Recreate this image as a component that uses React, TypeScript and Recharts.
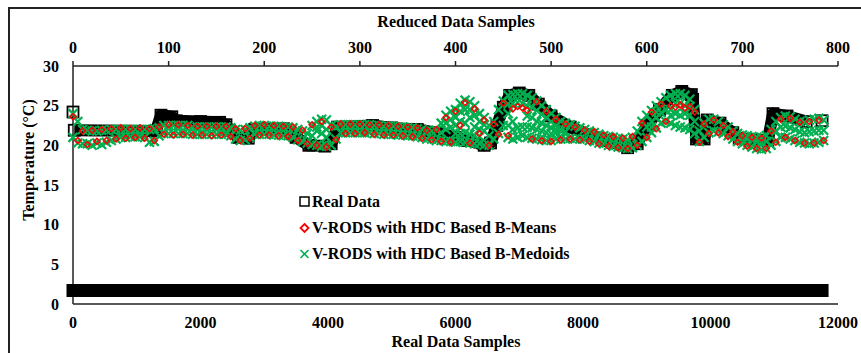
import { ScatterChart, Scatter, XAxis, YAxis } from "recharts";

const realTicks = [0, 2000, 4000, 6000, 8000, 10000, 12000];
const reducedTicks = [0, 100, 200, 300, 400, 500, 600, 700, 800];
const tempTicks = [0, 5, 10, 15, 20, 25, 30];

// Real data (bottom axis)
const realIdx = [0, 20, 1300, 1380, 1550, 1620, 2000, 2300, 2400, 2450, 2600, 2750, 2850, 3300, 3500, 3700, 3950, 4050, 4150, 4700, 5000, 5400, 5700, 6000, 6200, 6450, 6550, 6650, 6750, 6850, 7000, 7150, 7300, 7500, 7800, 8100, 8400, 8700, 8850, 9000, 9200, 9400, 9550, 9700, 9720, 9780, 9900, 9950, 10150, 10350, 10450, 10900, 10980, 11200, 11500, 11750];
const realTemp = [24.2, 21.9, 21.8, 23.8, 23.6, 23.1, 23.0, 22.9, 22.6, 21.9, 21.0, 20.9, 22.0, 22.1, 21.0, 20.0, 19.9, 20.2, 22.3, 22.5, 22.2, 22.0, 21.6, 21.0, 20.6, 20.0, 20.3, 22.5, 24.8, 26.3, 26.6, 26.3, 25.2, 23.7, 22.3, 21.3, 20.6, 19.7, 20.2, 22.5, 24.5, 26.3, 26.8, 26.4, 25.8, 20.8, 20.8, 23.2, 22.8, 21.6, 20.9, 20.6, 24.0, 23.7, 23.0, 23.1];

// flat black strip near the bottom
const bandIdx = [0, 11750];
const bandTemp = [1.7, 1.7];

// Reduced samples (top axis)
const reducedIdx = [0, 5, 10, 15, 20, 25, 30, 35, 40, 45, 50, 55, 60, 65, 70, 75, 80, 85, 90, 95, 100, 105, 110, 115, 120, 125, 130, 135, 140, 145, 150, 155, 160, 165, 170, 175, 180, 185, 190, 195, 200, 205, 210, 215, 220, 225, 230, 235, 240, 245, 250, 255, 260, 265, 270, 275, 280, 285, 290, 295, 300, 305, 310, 315, 320, 325, 330, 335, 340, 345, 350, 355, 360, 365, 370, 375, 380, 385, 390, 395, 400, 405, 410, 415, 420, 425, 430, 435, 440, 445, 450, 455, 460, 465, 470, 475, 480, 485, 490, 495, 500, 505, 510, 515, 520, 525, 530, 535, 540, 545, 550, 555, 560, 565, 570, 575, 580, 585, 590, 595, 600, 605, 610, 615, 620, 625, 630, 635, 640, 645, 650, 655, 660, 665, 670, 675, 680, 685, 690, 695, 700, 705, 710, 715, 720, 725, 730, 735, 740, 745, 750, 755, 760, 765, 770, 775, 780, 785];

const medoidHi = [
  24.0, 23.0, 22.0, 21.9, 21.8, 21.8, 21.9, 21.9, 22.0, 22.0,
  22.0, 22.0, 22.0, 22.0, 22.0, 22.0, 22.0, 22.1, 22.2, 22.5,
  22.5, 22.5, 22.5, 22.5, 22.5, 22.3, 22.3, 22.3, 22.3, 22.3,
  22.3, 22.3, 22.3, 22.2, 22.0, 21.9, 22.0, 22.2, 22.4, 22.5,
  22.5, 22.4, 22.4, 22.4, 22.3, 22.3, 22.2, 22.0, 21.8, 21.5,
  22.5, 23.0, 23.3, 23.2, 22.5, 22.4, 22.6, 22.6, 22.6, 22.6,
  22.6, 22.6, 22.6, 22.5, 22.5, 22.4, 22.4, 22.4, 22.3, 22.3,
  22.2, 22.2, 22.1, 22.0, 21.8, 21.8, 21.9, 22.8, 23.8, 24.3,
  24.5, 25.3, 25.7, 25.5, 25.0, 24.0, 23.5, 22.5, 23.0, 24.5,
  25.6, 26.3, 26.4, 26.5, 26.5, 26.3, 26.0, 25.6, 25.0, 24.5,
  24.0, 23.5, 23.0, 22.8, 22.6, 22.4, 22.2, 22.0, 21.8, 21.6,
  21.4, 21.2, 21.1, 21.0, 20.9, 20.8, 20.7, 21.0, 21.8, 23.0,
  23.8, 24.4, 25.0, 25.5, 26.0, 26.3, 26.5, 26.5, 26.3, 25.8,
  24.5, 21.8, 22.8, 23.3, 23.3, 23.0, 22.6, 22.3, 21.8, 21.5,
  21.3, 21.2, 21.1, 21.0, 21.0, 21.2, 22.0, 23.0, 23.5, 23.7,
  23.6, 23.3, 23.0, 22.9, 23.2, 23.3, 23.4, 23.2,
];
const medoidLo = [
  21.0, 20.3, 20.2, 20.2, 20.0, 20.3, 20.1, 20.4, 20.6, 20.8,
  21.0, 21.0, 21.1, 21.1, 21.1, 21.0, 20.4, 20.5, 21.2, 21.5,
  21.5, 21.5, 21.5, 21.5, 21.5, 21.4, 21.4, 21.4, 21.4, 21.4,
  21.4, 21.4, 21.4, 21.2, 20.8, 20.6, 20.7, 21.0, 21.4, 21.4,
  21.4, 21.4, 21.3, 21.3, 21.2, 21.2, 21.0, 20.7, 20.5, 20.3,
  20.1, 20.0, 19.9, 19.9, 20.0, 20.8, 21.6, 21.6, 21.6, 21.6,
  21.6, 21.6, 21.6, 21.5, 21.5, 21.4, 21.4, 21.4, 21.3, 21.3,
  21.2, 21.2, 21.1, 21.0, 20.8, 20.8, 20.6, 20.6, 20.5, 20.5,
  20.4, 20.5, 20.4, 20.3, 20.2, 20.2, 20.0, 20.0, 20.8, 21.5,
  22.5, 21.0, 20.8, 21.0, 21.2, 21.0, 20.9, 20.8, 20.7, 20.6,
  20.6, 20.8, 20.8, 20.8, 20.9, 20.8, 20.8, 20.8, 20.6, 20.5,
  20.3, 20.2, 20.0, 19.9, 19.8, 19.7, 19.6, 19.7, 20.0, 20.5,
  21.0, 21.6, 22.2, 22.8, 23.0, 22.8, 22.5, 22.3, 22.2, 22.0,
  21.5, 20.5, 21.0, 21.6, 21.8, 21.7, 21.5, 21.2, 20.8, 20.5,
  20.2, 20.0, 19.8, 19.6, 19.5, 19.6, 20.0, 20.5, 21.0, 21.0,
  20.8, 20.6, 20.4, 20.3, 20.2, 20.3, 20.4, 20.6,
];
// extra B-Medoids points where the cloud is spread out
const spreadIdx = [
  250, 255, 255, 260, 260, 265, 265,
  385, 390, 390, 395, 395, 400, 400, 400, 405, 405, 405, 410, 410, 410, 415, 415, 415, 420, 420, 420, 425, 425, 425, 430, 430, 435,
  455, 455, 455, 460, 460, 460, 465, 465, 470, 470, 475, 475, 475, 480, 480, 480, 485, 485, 485, 490, 490, 490, 495, 495, 495, 500, 500, 500, 505, 505, 505, 510, 510, 515,
  600, 605, 605, 610, 610, 615, 620, 625, 625, 630, 630, 635, 635, 640, 640, 645, 645, 650,
  700, 705, 710, 715, 720, 725, 735, 740, 745, 750, 755, 760, 765, 770, 775, 780, 785,
];
const spreadTemp = [
  21.2, 21.8, 22.3, 21.5, 22.5, 21.0, 22.0,
  21.6, 22.0, 22.8, 22.3, 23.3, 22.5, 23.5, 21.5, 23.0, 24.3, 21.5, 22.8, 24.5, 21.6, 23.5, 24.5, 21.4, 22.3, 23.8, 21.2, 22.0, 23.0, 21.1, 21.8, 22.6, 21.2,
  24.0, 25.2, 22.5, 23.0, 25.3, 22.0, 25.4, 22.2, 25.3, 22.3, 25.0, 22.3, 23.7, 23.5, 24.8, 22.2, 23.0, 24.4, 22.0, 22.8, 23.9, 21.8, 22.5, 23.5, 21.6, 22.2, 23.0, 21.5, 22.0, 22.5, 21.6, 21.8, 22.0, 21.7,
  22.3, 23.0, 22.3, 23.5, 24.2, 24.1, 24.5, 24.5, 23.8, 24.0, 25.3, 23.8, 25.3, 24.0, 25.0, 23.8, 24.9, 23.0,
  20.8, 20.8, 20.7, 20.5, 20.4, 20.5, 21.8, 22.3, 22.4, 22.2, 22.0, 21.7, 21.6, 21.7, 21.8, 21.9, 21.9,
];

const meansTemp = [
  23.6, 20.6, 21.8, 20.1, 21.9, 20.5, 22.0, 20.6, 22.1, 20.8,
  22.2, 20.9, 22.1, 21.0, 22.2, 20.9, 22.1, 20.6, 22.3, 21.4,
  22.6, 21.3, 22.6, 21.4, 22.5, 21.3, 22.4, 21.3, 22.4, 21.2,
  22.4, 21.3, 22.4, 21.1, 22.1, 20.6, 22.1, 20.9, 22.5, 21.3,
  22.6, 21.3, 22.5, 21.2, 22.4, 21.1, 22.3, 20.6, 21.9, 20.2,
  22.6, 20.0, 23.0, 19.8, 22.3, 20.7, 22.7, 21.5, 22.7, 21.5,
  22.7, 21.6, 22.6, 21.4, 22.6, 21.3, 22.5, 21.3, 22.4, 21.2,
  22.3, 21.1, 22.2, 20.9, 21.9, 20.7, 22.0, 20.5, 23.5, 20.4,
  24.3, 22.5, 25.4, 20.3, 24.6, 21.5, 23.2, 20.0, 22.7, 21.4,
  25.3, 21.2, 24.6, 24.9, 24.7, 24.4, 20.8, 25.5, 20.6, 24.3,
  20.5, 23.3, 20.7, 22.7, 20.8, 22.3, 20.7, 21.9, 20.5, 21.7,
  20.2, 21.3, 19.9, 21.1, 19.7, 20.9, 19.6, 21.1, 20.0, 22.8,
  21.0, 24.2, 22.1, 25.2, 23.0, 25.0, 24.8, 25.1, 24.7, 24.9,
  24.2, 20.4, 22.7, 21.5, 23.2, 21.6, 22.5, 21.1, 21.7, 20.4,
  21.2, 19.9, 21.0, 19.6, 20.9, 19.6, 21.8, 20.4, 23.3, 21.0,
  23.4, 20.6, 22.9, 20.3, 23.0, 20.3, 23.2, 20.6,
];

const FONT = "'Liberation Serif', 'Times New Roman', serif";
const GREEN = "#00b050";
const RED = "#ff0000";

const pts = (xs: number[], ys: number[]) => xs.map((x, i) => ({ x, y: ys[i] }));

const realPts = pts(realIdx, realTemp);
const bandPts = pts(bandIdx, bandTemp);
const meansPts = pts(reducedIdx, meansTemp);
const medoidPts = [...pts(reducedIdx, medoidHi), ...pts(reducedIdx, medoidLo), ...pts(spreadIdx, spreadTemp)];

const tick = { fontFamily: FONT, fontWeight: 700, fontSize: 16, fill: "#000" };
const axisLine = { stroke: "#222", strokeWidth: 1.5 };

function Square(p: any) {
  if (p.cx == null) return <g />;
  return <rect x={p.cx - 5.5} y={p.cy - 5.5} width={11} height={11} fill="none" stroke="#000" strokeWidth={1.8} />;
}

function Diamond(p: any) {
  if (p.cx == null) return <g />;
  const { cx, cy } = p;
  return <path d={`M${cx},${cy - 3}L${cx + 3},${cy}L${cx},${cy + 3}L${cx - 3},${cy}Z`} fill="none" stroke={RED} strokeWidth={1.5} />;
}

function Cross(p: any) {
  if (p.cx == null) return <g />;
  const { cx, cy } = p;
  return <path d={`M${cx - 4.5},${cy - 4.5}L${cx + 4.5},${cy + 4.5}M${cx + 4.5},${cy - 4.5}L${cx - 4.5},${cy + 4.5}`} stroke={GREEN} strokeWidth={2.2} fill="none" />;
}

const Nothing = () => <g />;

export default function App() {
  return (
    <div style={{ position: "relative", width: 861, height: 353, background: "#fff", overflow: "hidden" }}>
      <style>{"body{margin:0}"}</style>
      <ScatterChart width={861} height={353} margin={{ top: 36, right: 23, bottom: 19, left: 23 }}>
        <XAxis xAxisId="real" type="number" dataKey="x" domain={[0, 12000]} ticks={realTicks} orientation="bottom" height={30} tickLine={false} tickSize={6} tickMargin={7} axisLine={axisLine} tick={tick} />
        <XAxis xAxisId="reduced" type="number" dataKey="x" domain={[0, 800]} ticks={reducedTicks} orientation="top" height={30} tickSize={5} tickMargin={8} tickLine={{ stroke: "#222", strokeWidth: 1.5 }} axisLine={axisLine} tick={tick} />
        <YAxis yAxisId="t" type="number" dataKey="y" domain={[0, 30]} ticks={tempTicks} width={50} tickLine={false} tickSize={6} tickMargin={8} axisLine={axisLine} tick={tick} />

        <Scatter xAxisId="real" yAxisId="t" data={bandPts} line={{ stroke: "#000", strokeWidth: 13, strokeLinecap: "square" }} shape={Nothing} isAnimationActive={false} />
        <Scatter xAxisId="real" yAxisId="t" data={realPts.slice(1, -1)} line={{ stroke: "#000", strokeWidth: 12, strokeLinejoin: "round" }} shape={Nothing} isAnimationActive={false} />
        <Scatter xAxisId="real" yAxisId="t" data={realPts} shape={Square} isAnimationActive={false} />
        <Scatter xAxisId="reduced" yAxisId="t" data={medoidPts} shape={Cross} isAnimationActive={false} />
        <Scatter xAxisId="reduced" yAxisId="t" data={meansPts} shape={Diamond} isAnimationActive={false} />
      </ScatterChart>

      <svg width={861} height={353} style={{ position: "absolute", left: 0, top: 0, pointerEvents: "none" }}>
        <rect x={9} y={8} width={900} height={400} fill="none" stroke="#222" strokeWidth={2} />
        <g fontFamily={FONT} fontWeight={700} fontSize={16} fill="#000">
          <text x={456} y={27} textAnchor="middle">Reduced Data Samples</text>
          <text x={456} y={347} textAnchor="middle">Real Data Samples</text>
          <text x={34} y={160} textAnchor="middle" transform="rotate(-90 34 160)">Temperature (°C)</text>

          <rect x={300} y={197} width={9} height={9} fill="none" stroke="#000" strokeWidth={1.5} />
          <text x={312} y={207}>Real Data</text>
          <path d="M304.5,224L308.5,228L304.5,232L300.5,228Z" fill="none" stroke={RED} strokeWidth={1.8} />
          <text x={312} y={233}>V-RODS with HDC Based B-Means</text>
          <path d="M300.5,250L308.5,258M308.5,250L300.5,258" stroke={GREEN} strokeWidth={1.6} />
          <text x={312} y={259}>V-RODS with HDC Based B-Medoids</text>
        </g>
      </svg>
    </div>
  );
}
